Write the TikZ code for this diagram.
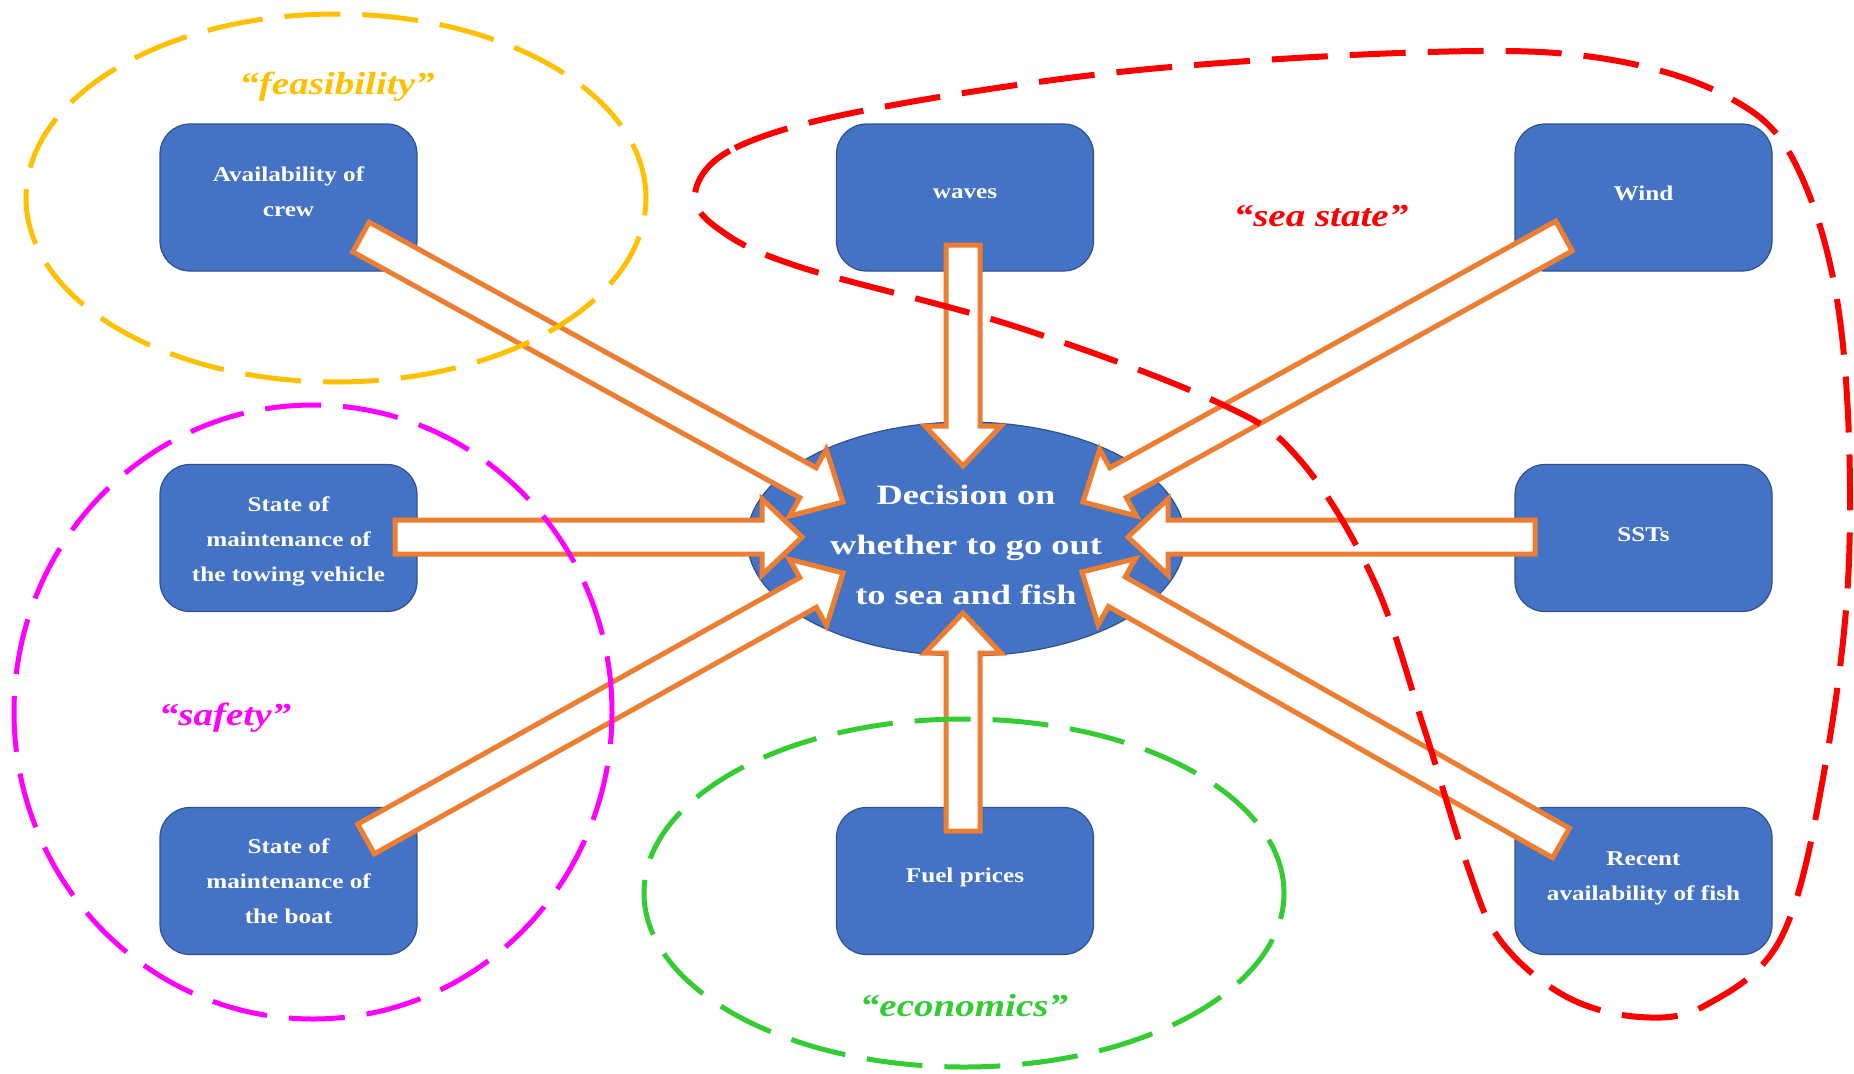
\documentclass[tikz,border=0pt]{standalone}
\usepackage{fontspec}
\setmainfont{Liberation Serif}
\newfontfamily\boxfont{Liberation Serif}[FakeStretch=1.2]
\newfontfamily\ctrfont{Liberation Serif}[FakeStretch=1.3]
\newfontfamily\lblfont{Liberation Serif}[FakeStretch=1.22]
\usetikzlibrary{calc,shapes.geometric}
\definecolor{boxblue}{HTML}{4472C4}
\definecolor{boxedge}{HTML}{2F528F}
\definecolor{arrorange}{HTML}{ED7D31}
\definecolor{feasc}{HTML}{FFC000}
\definecolor{seac}{HTML}{FF0000}
\definecolor{safec}{HTML}{FF00FF}
\definecolor{econc}{HTML}{33CC33}
\newcommand\blockarr[2]{%
  \path ($(#2)!40pt!(#1)$) coordinate (hb);
  \draw[barrow] ($(#1)!17pt!90:(#2)$) -- ($(hb)!17pt!90:(#2)$) -- ($(hb)!38pt!90:(#2)$)
    -- (#2) -- ($(hb)!38pt!-90:(#2)$) -- ($(hb)!17pt!-90:(#2)$) -- ($(#1)!17pt!-90:(#2)$) -- cycle;}
\begin{document}
\begin{tikzpicture}[x=1pt,y=-1pt,
  fbox/.style={draw=boxedge, line width=1.2pt, fill=boxblue, rounded corners=30pt,
    minimum width=257pt, minimum height=147pt, inner sep=0pt},
  ftxt/.style={align=center, text=white, inner sep=0pt,
    font=\boxfont\bfseries\fontsize{21}{35}\selectfont},
  decision/.style={ellipse, draw=boxedge, line width=1.2pt, fill=boxblue,
    minimum width=438pt, minimum height=234pt, inner sep=0pt},
  dtxt/.style={align=center, text=white, inner sep=0pt,
    font=\ctrfont\bfseries\fontsize{28}{50}\selectfont},
  lbl/.style={font=\lblfont\bfseries\itshape\fontsize{32}{38}\selectfont, inner sep=0pt},
  barrow/.style={draw=arrorange, fill=white, line width=5pt, line join=miter},
  grp/.style={line width=5pt, dash pattern=on 56pt off 22pt},
  ]
\useasboundingbox (0,0) rectangle (1854,1073);
\fill[white] (0,0) rectangle (1854,1073);

% central decision
\node[decision] (dec) at (966,539) {};
\node[dtxt] (dect) at ($(dec.center)+(0,6)$) {Decision on\\whether to go out\\to sea and fish};

% factor boxes
\node[fbox] (crew)  at (288.5,197.5) {};
\node[fbox] (waves) at (965,197.5)   {};
\node[fbox] (wind)  at (1643.5,197.5){};
\node[fbox] (tow)   at (288.5,538)   {};
\node[fbox] (sst)   at (1643.5,538)  {};
\node[fbox] (boat)  at (288.5,881)   {};
\node[fbox] (fuel)  at (965,881)     {};
\node[fbox] (fish)  at (1643.5,881)  {};
\node[ftxt] (crewt)  at ($(crew.center)+(0,-6)$)  {Availability of\\crew};
\node[ftxt] (wavest) at ($(waves.center)+(0,-4)$) {waves};
\node[ftxt] (windt)  at ($(wind.center)+(0,-4)$)  {Wind};
\node[ftxt] (towt)   at ($(tow.center)+(0,3)$)    {State of\\maintenance of\\the towing vehicle};
\node[ftxt] (sstt)   at ($(sst.center)+(0,-3)$)   {SSTs};
\node[ftxt] (boatt)  at ($(boat.center)+(0,0)$)   {State of\\maintenance of\\the boat};
\node[ftxt] (fuelt)  at ($(fuel.center)+(0,-4)$)  {Fuel prices};
\node[ftxt] (fisht)  at ($(fish.center)+(0,-3)$)  {Recent\\availability of fish};

% arrow tails and tips
\coordinate (s1) at (361,237);   \coordinate (e1) at (843,502);
\coordinate (s2) at (963,245);   \coordinate (e2) at (963,466);
\coordinate (s3) at (1564,236);  \coordinate (e3) at (1083,502);
\coordinate (s4) at (395,537);   \coordinate (e4) at (802,537);
\coordinate (s5) at (1535,537);  \coordinate (e5) at (1128,537);
\coordinate (s6) at (366,839);   \coordinate (e6) at (843,573);
\coordinate (s7) at (963,831);   \coordinate (e7) at (963,613);
\coordinate (s8) at (1561,843);  \coordinate (e8) at (1082,572);

\blockarr{s1}{e1}
\blockarr{s2}{e2}
\blockarr{s3}{e3}
\blockarr{s4}{e4}
\blockarr{s5}{e5}
\blockarr{s6}{e6}
\blockarr{s7}{e7}
\blockarr{s8}{e8}

% groups
\draw[grp, feasc] (336,198) ellipse [x radius=310pt, y radius=184pt];
\draw[grp, safec] (313,712) ellipse [x radius=299pt, y radius=307pt];
\draw[grp, econc] (964,893) ellipse [x radius=320pt, y radius=174pt];
\draw[grp, seac, line width=6pt] plot[smooth cycle, tension=0.6] coordinates {
  (695,193) (735,148) (867,110) (1129,71) (1429,52) (1600,58) (1728,97) (1796,165)
  (1840,320) (1849,560) (1823,778) (1781,938) (1706,1005) (1640,1017) (1565,996)
  (1500,940) (1466,862) (1424,728) (1374,581) (1300,460) (1219,403) (1017,327)
  (800,267) (720,230)};

% group labels
\node[lbl, text=feasc] (lfeas) at (337,87)   {“feasibility”};
\node[lbl, text=seac]  (lsea)  at (1321,216) {“sea state”};
\node[lbl, text=safec] (lsafe) at (225,718)  {“safety”};
\node[lbl, text=econc] (lecon) at (964,1006) {“economics”};
\end{tikzpicture}
\end{document}
